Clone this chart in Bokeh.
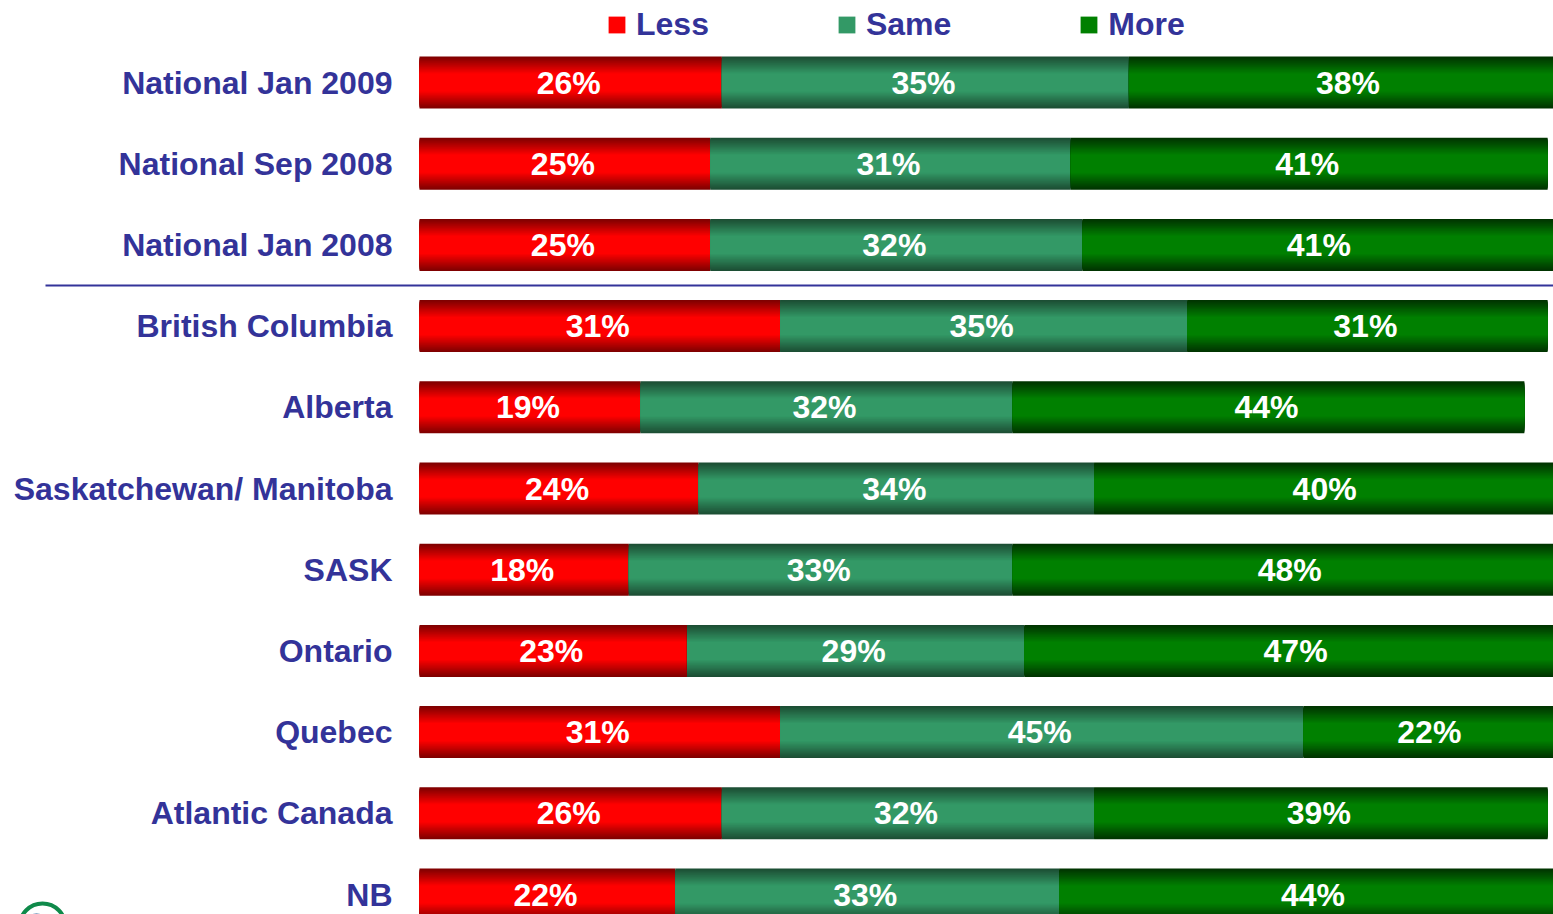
from bokeh.plotting import figure
from bokeh.models import ColumnDataSource, Range1d, Legend, LegendItem
from bokeh.core.properties import value
from bokeh.embed import file_html
from bokeh.resources import INLINE

# ---------------- data ----------------
categories = ["National Jan 2009", "National Sep 2008", "National Jan 2008",
              "British Columbia", "Alberta", "Saskatchewan/ Manitoba", "SASK",
              "Ontario", "Quebec", "Atlantic Canada", "NB"]
less = [26, 25, 25, 31, 19, 24, 18, 23, 31, 26, 22]
same = [35, 31, 32, 35, 32, 34, 33, 29, 45, 32, 33]
more = [38, 41, 41, 31, 44, 40, 48, 47, 22, 39, 44]
series_names = ["Less", "Same", "More"]
n_national = 3

# ---------------- styling / layout ----------------
W, H = 1553, 914
PX_PER_PCT = 11.63
BAR_LEFT_PX = 419
ROW0_PX = 82
ROW_PX = 81.2
BAR_FRAC = 0.64
FONT_NAME = "Liberation Sans"
FONT = value(FONT_NAME)
LABEL_COLOR = "#333399"
SEP_LEFT_PX = 45

dark = [(128, 0, 0), (28, 78, 52), (0, 52, 0)]
bright = [(255, 0, 0), (51, 153, 102), (0, 128, 0)]

x_start = -BAR_LEFT_PX / PX_PER_PCT
x_end = (W - BAR_LEFT_PX) / PX_PER_PCT
y_top = -ROW0_PX / ROW_PX
y_bottom = (H - ROW0_PX) / ROW_PX


def px_x(px):
    return (px - BAR_LEFT_PX) / PX_PER_PCT


def px_y(py):
    return (py - ROW0_PX) / ROW_PX


p = figure(width=W, height=H, x_range=Range1d(x_start, x_end),
           y_range=Range1d(y_bottom, y_top), output_backend="svg",
           toolbar_location=None, min_border=0,
           x_axis_location=None, y_axis_location=None)
p.grid.visible = False
p.outline_line_color = None
p.background_fill_color = "white"

rows = list(range(len(categories)))
series = [less, same, more]
lefts = [0] * len(categories)

K = 16
legend_items = []
for si, vals in enumerate(series):
    rights = [l + v for l, v in zip(lefts, vals)]
    src = ColumnDataSource(dict(y=rows, left=lefts, right=rights,
                                mid=[(l + r) / 2 for l, r in zip(lefts, rights)],
                                txt=[f"{v}%" for v in vals]))
    rends = []
    for k in range(K):
        d = 1.0 - k * (0.65 / (K - 1))
        t = (1.0 - d) / 0.65
        c = tuple(int(round(dark[si][j] + (bright[si][j] - dark[si][j]) * t)) for j in range(3))
        col = "#%02x%02x%02x" % c
        r = p.hbar(y="y", left="left", right="right", height=BAR_FRAC * d,
                   source=src, fill_color=col, line_color=None)
        rends.append(r)
    legend_items.append(LegendItem(label=series_names[si], renderers=[rends[-1]]))
    p.text(x="mid", y="y", text="txt", source=src, text_align="center",
           text_baseline="middle", text_color="white", text_font=FONT,
           text_font_style="bold", text_font_size="32px", x_offset=-2)
    lefts = rights

# category labels
cat_src = ColumnDataSource(dict(y=rows, x=[0] * len(rows), name=categories))
p.text(x="x", y="y", text="name", source=cat_src, x_offset=-27,
       text_align="right", text_baseline="middle", text_color=LABEL_COLOR,
       text_font=FONT, text_font_style="bold", text_font_size="32px")

# separator between national and regional rows
p.segment(x0=[px_x(SEP_LEFT_PX)], y0=[n_national - 0.5],
          x1=[x_end], y1=[n_national - 0.5], line_color=LABEL_COLOR, line_width=2)

# partial logo at bottom-left corner
p.scatter(x=[px_x(36)], y=[px_y(930)], size=34, marker="circle",
          fill_color="#1f5a96", line_color=None)
p.wedge(x=[px_x(42)], y=[px_y(926)], radius=23, radius_units="screen",
        start_angle=0.15, end_angle=1.9, fill_color=None, line_color=None)
p.scatter(x=[px_x(42)], y=[px_y(926)], size=46, marker="circle",
          fill_color=None, line_color="#0f8a4a", line_width=4)

legend = Legend(items=legend_items, orientation="horizontal", location=(606, 871),
                padding=0, margin=0, spacing=127, label_standoff=9,
                glyph_width=21, glyph_height=21,
                label_text_font=FONT_NAME, label_text_font_style="bold",
                label_text_font_size="32px", label_text_color=LABEL_COLOR,
                border_line_color=None, background_fill_alpha=0)
p.add_layout(legend)

open("out.html", "w").write(file_html(p, INLINE))
